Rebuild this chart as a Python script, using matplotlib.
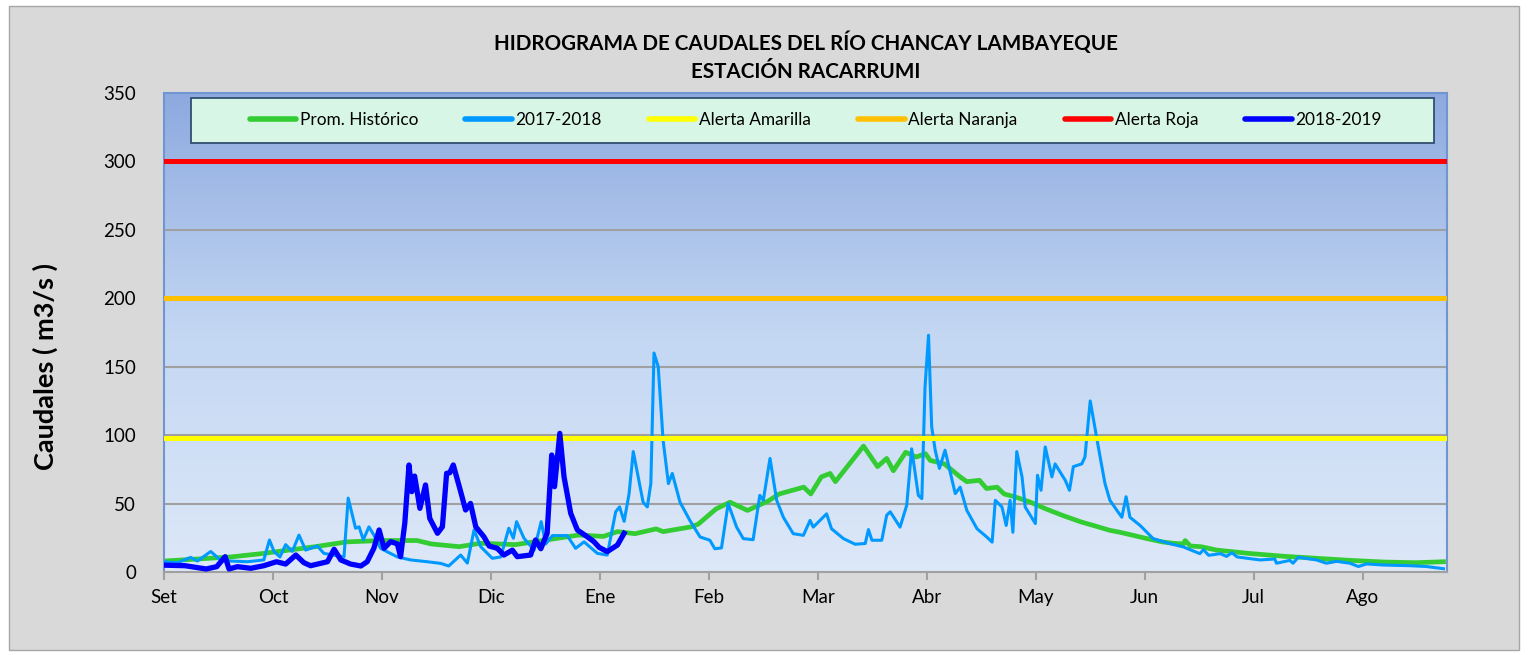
import numpy as np
import matplotlib
matplotlib.use('Agg')
import matplotlib.pyplot as plt
from matplotlib.colors import LinearSegmentedColormap
from matplotlib.patches import Rectangle

plt.rcParams['font.family'] = ['Lato', 'DejaVu Sans']

# month labels and the day index where each tick sits
meses = ['Set', 'Oct', 'Nov', 'Dic', 'Ene', 'Feb', 'Mar', 'Abr', 'May', 'Jun', 'Jul', 'Ago']
tick_dias = [0, 31, 62, 93, 124, 155, 186, 217, 248, 279, 310, 341]

# alert thresholds (m3/s)
alerta_amarilla = 98
alerta_naranja = 200
alerta_roja = 300

# Prom. Historico
dias_prom = [0, 19, 28, 43, 52, 62, 72, 76, 84, 90, 100, 109, 118, 125, 129, 134, 140, 142, 150, 152,
             157, 161, 166, 172, 175, 182, 184, 187, 189.5, 191, 199, 203, 205.6, 207.5, 211, 214,
             216.6, 218, 222, 226.5, 228.4, 232, 234, 237, 239, 242, 246.5, 251, 256, 261, 264.4,
             269, 272, 279.5, 284, 287, 290, 290.5, 292, 295, 299.5, 309, 318.5, 328, 337.4, 347,
             356, 364]
q_prom = [8, 11, 13.5, 18.5, 22, 23, 23, 20.5, 18.5, 21, 20, 23.5, 27, 26, 29.5, 28, 31.5, 29.5, 33, 35,
          46, 51, 45, 52, 57, 62, 57, 69.5, 72, 66, 92, 77, 83, 74, 87.5, 84,
          86.5, 81.5, 79, 69.5, 66, 67, 61, 62, 57, 55, 51, 46, 41, 36.5, 34,
          30.5, 29, 24.5, 22, 21, 20.5, 23, 19, 18.5, 16, 13.5, 11.5, 10, 8.5, 7.3,
          6.8, 7.5]

# 2017-2018
dias_1718 = [0, 3.8, 7.6, 9.5, 13.3, 16, 19, 23.7, 28.4, 30, 31.3, 33, 34.6, 36.5, 38.4, 40.3, 43.6,
             45.5, 51.2, 52.4, 54.5, 55.5, 56.7, 58.3, 59.7, 61.6, 66.4, 70.2, 74.9, 78.7, 81, 84.4,
             86.3, 88.2, 90.1, 93.4, 95.8, 98.1, 99.4, 100.3, 102.4, 105.3, 107.3, 108.6, 110.5,
             114.7, 117.1, 119.5, 123.3, 126.1, 128.5, 129.6, 130.9, 132.3, 133.5, 134.9, 136.3,
             137.5, 138.5, 139.4, 140.6, 142, 143.5, 144.6, 146.8, 149.6, 152.5, 155.3, 156.7,
             158.6, 160.5, 162.9, 164.8, 167.6, 169.5, 170.5, 172.4, 174.3, 176.2, 179, 181.9,
             183.8, 184.7, 188.5, 189.9, 193.3, 196.6, 199.5, 200.4, 201.4, 204.2, 205.6, 206.6,
             209.4, 211.3, 212.7, 214.6, 215.6, 216.5, 217.5, 218.4, 219.4, 220.6, 222.2, 225.1,
             226.5, 228.4, 231.3, 234.1, 235.6, 236.5, 238.4, 239.6, 240.7, 241.5, 242.6, 244.1,
             245, 247.9, 248.5, 249.5, 250.7, 252.6, 253.5, 256.4, 257.6, 258.7, 261.1, 262,
             263.5, 265.8, 267.7, 269.1, 271.1, 272.5, 273.7, 274.8, 277.7, 281.4, 286.2, 290,
             294.7, 295.7, 297.2, 300.5, 302.3, 303.8, 305.3, 311.8, 316, 316.5, 320.3, 321.2,
             322.7, 327.9, 330.7, 333.6, 337.4, 339.8, 342.1, 346.9, 354.5, 359.2, 364]
q_1718 = [7.5, 6.8, 10.7, 8, 15, 8.8, 8, 7.5, 8.8, 23.4, 15, 11, 20, 15, 27, 16, 19,
          13.6, 11, 54, 32, 33, 23.5, 33, 27, 17.3, 11, 8.8, 7.5, 6.3, 4.4, 12.4,
          6.5, 30.7, 18.5, 10, 11, 32, 24.7, 36.8, 24.7, 16, 36.8, 20.5, 26.6,
          26.6, 17.3, 22, 13.6, 12.4, 44, 47.6, 37, 57, 88, 69.5, 51,
          47.5, 64.6, 160, 150, 96, 64.6, 72, 51, 37.7, 25.6, 23.2, 17,
          17.6, 50, 32.8, 24.4, 23.6, 56, 52.4, 83, 52.4, 40, 28, 26.8,
          37.7, 32.8, 42.5, 31.6, 24.4, 20.3, 20.8, 31, 23.2, 23.2, 41.5, 44,
          32.8, 48.8, 90, 56, 53.6, 135, 173, 106, 89, 75.7, 89, 57.3,
          62, 45, 31.6, 25.5, 21.8, 52.4, 47.5, 34, 52.4, 29, 88, 69.5,
          47.5, 35.4, 70.7, 59.7, 91.4, 69.5, 79, 67, 59.7, 77, 79, 84,
          125, 91.4, 64.6, 52.4, 45, 40, 55, 40, 34, 24.4, 20.7, 18.3,
          13.4, 16.3, 12.2, 13.4, 11.4, 14.1, 11, 8.8, 9.5, 6.4, 8.5, 6.4,
          10.8, 8.8, 6.4, 7.8, 6.4, 4, 5.9, 5.1, 4.6, 4, 2.4]

# 2018-2019
dias_1819 = [0, 6, 12, 15, 17.4, 18.5, 20.9, 24.7, 28.4, 32, 34.6, 37.5, 39.8, 41.7, 46.5, 48.4,
             50.3, 53.1, 56, 57.8, 59.7, 61.2, 62.6, 64.5, 66.4, 67.3, 68.5, 69.7, 70.5, 71.3,
             72.8, 74.4, 75.6, 77.8, 79.2, 80.4, 81.3, 82.3, 84.4, 85.8, 87.2, 88.7, 91, 92.5,
             94.8, 96.7, 99.1, 100.5, 104.3, 105.7, 107.2, 109, 110.3, 111.1, 112.6, 113.8,
             115.7, 117.6, 120.4, 122.3, 123.8, 126.1, 129, 130.9]
q_1819 = [5, 4.6, 2.2, 3.9, 11.2, 2.2, 3.9, 2.7, 4.6, 7.5, 5.8, 12.4, 6.8, 4.6, 7.5, 16.6,
          8.8, 5.8, 4.4, 7.5, 17.3, 30.7, 17.3, 22.2, 20.5, 11.2, 35.6, 78.2, 58.7, 70.1,
          46.5, 63.6, 39.2, 28.3, 33, 72.1, 72.5, 78.2, 58.7, 45.3, 50.1, 33, 25.8, 19,
          17.3, 12.4, 16, 11.2, 12.4, 23.4, 17, 28.3, 85.5, 62.3, 101.3, 69.6,
          42.9, 30.7, 25.8, 22.2, 18, 14.9, 19.7, 28.3]

W, H = 1528, 655
fig = plt.figure(figsize=(W / 100, H / 100), dpi=100)
fig.patch.set_facecolor('white')
fig.patches.append(Rectangle((9 / W, 1 - 650 / H), 1510 / W, 644 / H, transform=fig.transFigure,
                             facecolor='#D9D9D9', edgecolor='#A6A6A6', lw=1, zorder=-10))

ax = fig.add_axes([164 / W, 1 - 572 / H, 1283 / W, 479 / H])
ax.set_facecolor('none')
ax.set_zorder(2)

# gradient plot area
cmap = LinearSegmentedColormap.from_list('fondo', ['#DDE8F8', '#C3D7F3', '#8DA9DF'])
grad = np.linspace(0, 1, 256).reshape(-1, 1)
ax.imshow(grad, cmap=cmap, aspect='auto', extent=[0, 1, 0, 1], origin='lower',
          transform=ax.transAxes, zorder=0)

for v in range(50, 350, 50):
    ax.axhline(v, color='#A0A0A0', lw=1.5, zorder=1)

ax.plot(dias_prom, q_prom, color='#33CC33', lw=3.4, label='Prom. Histórico', zorder=2)
ax.plot(dias_1718, q_1718, color='#0099FF', lw=2.2, label='2017-2018', zorder=3)
ax.axhline(alerta_amarilla, color='#FFFF00', lw=3.6, label='Alerta Amarilla', zorder=4)
ax.axhline(alerta_naranja, color='#FFC000', lw=3.6, label='Alerta Naranja', zorder=4)
ax.axhline(alerta_roja, color='#FF0000', lw=3.6, label='Alerta Roja', zorder=4)
ax.plot(dias_1819, q_1819, color='#0000FF', lw=3.8, label='2018-2019', zorder=5,
        solid_joinstyle='round')

ax.set_xlim(0, 365)
ax.set_ylim(0, 350)
ax.set_yticks(range(0, 351, 50))
ax.set_xticks(tick_dias)
ax.set_xticklabels(meses)
ax.tick_params(axis='y', length=0, pad=20, labelsize=13.5, colors='black')
ax.tick_params(axis='x', length=6, width=1.5, color='#A0A0A0', pad=6, labelsize=13.5)
for s in ['left', 'top', 'right']:
    ax.spines[s].set_color('#6F95D3')
    ax.spines[s].set_linewidth(1.5)
ax.spines['bottom'].set_color('#A0A0A0')
ax.spines['bottom'].set_linewidth(1.5)

# legend box
ax.add_patch(Rectangle((0.021, 0.8956), 0.969, 0.094, transform=ax.transAxes,
                       facecolor='#D8F6E6', edgecolor='#2F4F70', lw=1.3, zorder=6))
leg = ax.legend(loc='center', bbox_to_anchor=(0.508, 0.9426), ncol=6, frameon=False,
                fontsize=12.4, handlelength=2.7, handletextpad=0.2, columnspacing=2.75)
leg.set_zorder(7)
for h in leg.get_lines():
    h.set_linewidth(4)
    h.set_solid_capstyle('round')

fig.text(806 / W, 1 - 43 / H, 'HIDROGRAMA DE CAUDALES DEL RÍO CHANCAY LAMBAYEQUE',
         ha='center', va='center', fontsize=14.9, fontweight='bold')
fig.text(806 / W, 1 - 72 / H, 'ESTACIÓN RACARRUMI',
         ha='center', va='center', fontsize=14.9, fontweight='bold')
fig.text(45 / W, 1 - 366 / H, 'Caudales ( m3/s )', rotation=90, ha='center', va='center',
         fontsize=19.5, fontweight='bold')

fig.savefig('out.png', dpi=100)
